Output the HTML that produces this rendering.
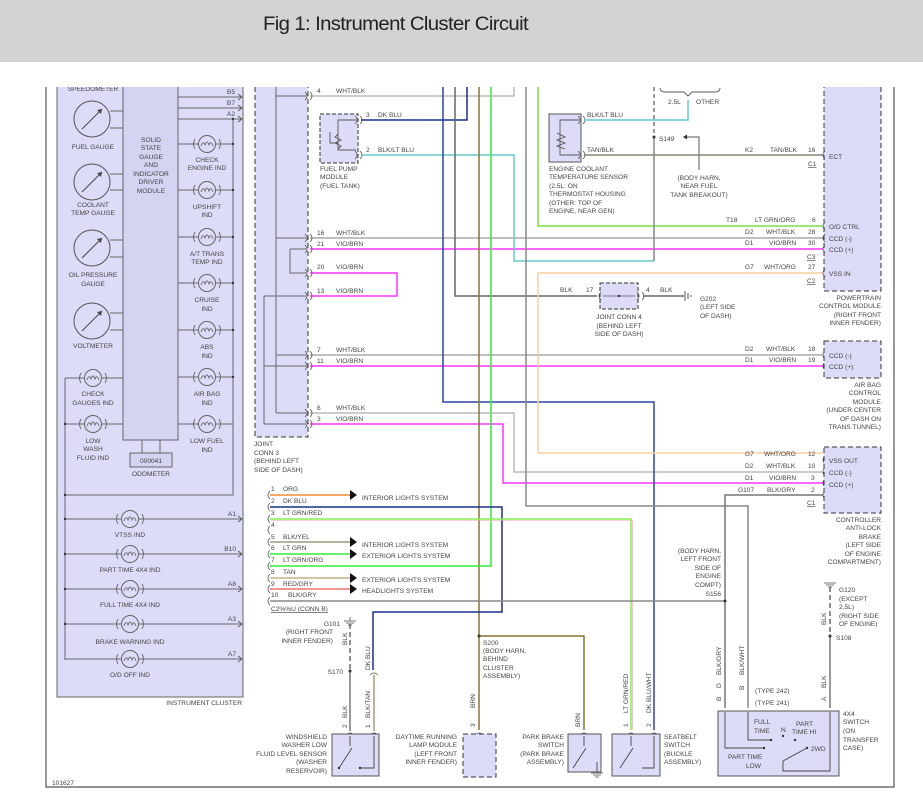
<!DOCTYPE html>
<html><head><meta charset="utf-8"><style>
html,body{margin:0;padding:0;background:#fff;width:923px;height:805px;overflow:hidden}
svg{display:block}
text{font-family:"Liberation Sans",sans-serif;font-size:6.6px;fill:#444}
.w{fill:none;stroke-width:1.5}
</style></head><body>
<svg width="923" height="805" viewBox="0 0 923 805" xmlns="http://www.w3.org/2000/svg">
<defs>
<g id="bulb"><circle cx="0" cy="0" r="8.5" fill="none" stroke="#666" stroke-width="1"/><path d="M-12,-5 Q-15,0 -12,5 M12,-5 Q15,0 12,5 M-6,2 Q-4,-4 -2,1 Q0,-5 2,1 Q4,-4 6,2" fill="none" stroke="#666" stroke-width="0.9"/></g>
<g id="gauge"><circle cx="0" cy="0" r="18" fill="none" stroke="#555" stroke-width="1"/><path d="M-10,10 L10,-10" stroke="#444" stroke-width="1"/><path d="M10,-10 l-5,1 l4,4z" fill="#444"/></g>
<g id="arr"><path d="M-4,-3 L0,0 L-4,3" fill="none" stroke="#555" stroke-width="0.9"/></g>
<g id="conR"><path d="M-3,-4 Q1,0 -3,4 M2,-4 Q6,0 2,4" fill="none" stroke="#555" stroke-width="0.8"/></g>
<g id="conL"><path d="M3,-4 Q-1,0 3,4" fill="none" stroke="#555" stroke-width="0.8"/></g>
<g id="conU"><path d="M-4,3 Q0,-1 4,3" fill="none" stroke="#555" stroke-width="0.8"/></g>
<g id="gnd"><path d="M-6,0 H6 M-4,2 H4 M-2,4 H2" stroke="#777" stroke-width="1"/></g>
</defs>

<!-- frame -->
<path d="M46,87 V787 H894 V87" fill="none" stroke="#555" stroke-width="1.2"/>

<!-- instrument cluster -->
<rect x="57" y="80" width="186" height="617" fill="#dcdcf8" stroke="#666" stroke-width="1"/>
<rect x="123" y="80" width="55" height="360" fill="#d3d3f2" stroke="#666" stroke-width="1"/>
<text x="242" y="705" text-anchor="end">INSTRUMENT CLUSTER</text>
<g text-anchor="middle">
<text x="151" y="142">SOLID</text><text x="151" y="150">STATE</text><text x="151" y="159">GAUGE</text><text x="151" y="167">AND</text><text x="151" y="176">INDICATOR</text><text x="151" y="184">DRIVER</text><text x="151" y="193">MODULE</text>
<text x="93" y="91">SPEEDOMETER</text>
<text x="93" y="149">FUEL GAUGE</text>
<text x="93" y="207">COOLANT</text><text x="93" y="215">TEMP GAUGE</text>
<text x="93" y="277">OIL PRESSURE</text><text x="93" y="286">GAUGE</text>
<text x="93" y="348">VOLTMETER</text>
<text x="93" y="396">CHECK</text><text x="93" y="405">GAUGES IND</text>
<text x="93" y="443">LOW</text><text x="93" y="451">WASH</text><text x="93" y="460">FLUID IND</text>
<text x="207" y="162">CHECK</text><text x="207" y="170">ENGINE IND</text>
<text x="207" y="209">UPSHIFT</text><text x="207" y="217">IND</text>
<text x="207" y="256">A/T TRANS</text><text x="207" y="264">TEMP IND</text>
<text x="207" y="302">CRUISE</text><text x="207" y="311">IND</text>
<text x="207" y="349">ABS</text><text x="207" y="358">IND</text>
<text x="207" y="396">AIR BAG</text><text x="207" y="405">IND</text>
<text x="207" y="443">LOW FUEL</text><text x="207" y="452">IND</text>
<text x="151" y="476">ODOMETER</text>
<text x="130" y="537">VTSS IND</text>
<text x="130" y="572">PART TIME 4X4 IND</text>
<text x="130" y="607">FULL TIME 4X4 IND</text>
<text x="130" y="644">BRAKE WARNING IND</text>
<text x="130" y="677">O/D OFF IND</text>
</g>
<g stroke="#666" stroke-width="1" fill="none">
<path d="M110,111H123 M110,128H123 M110,174H123 M110,190H123 M110,240H123 M110,257H123 M110,313H123 M110,330H123"/>
<path d="M178,97H241 M178,108H241 M178,119H241 M233,119V424"/>
<path d="M178,144H199 M215,144H233 M178,190H199 M215,190H233 M178,237H199 M215,237H233 M178,283H199 M215,283H233 M178,330H199 M215,330H233 M178,377H199 M215,377H233 M178,424H199 M215,424H233"/>
<path d="M65,378H85 M101,378H123 M65,424H85 M101,424H123 M65,378V660 M233,424V495 H65"/>
<path d="M65,519H122 M138,519H241 M65,554H122 M138,554H241 M65,589H122 M138,589H241 M65,624H122 M138,624H241 M65,659H122 M138,659H241"/>
<path d="M142,440V453 M160,440V453"/>
</g>
<rect x="130" y="453" width="42" height="14" fill="#d3d3f2" stroke="#666"/>
<text x="151" y="463" text-anchor="middle">000041</text>
<use href="#gauge" x="92" y="119"/><use href="#gauge" x="92" y="182"/><use href="#gauge" x="92" y="248"/><use href="#gauge" x="92" y="321"/>
<g>
<use href="#bulb" x="207" y="144"/><use href="#bulb" x="207" y="190"/><use href="#bulb" x="207" y="237"/><use href="#bulb" x="207" y="283"/><use href="#bulb" x="207" y="330"/><use href="#bulb" x="207" y="377"/><use href="#bulb" x="207" y="424"/>
<use href="#bulb" x="93" y="378"/><use href="#bulb" x="93" y="424"/>
<use href="#bulb" x="130" y="519"/><use href="#bulb" x="130" y="554"/><use href="#bulb" x="130" y="589"/><use href="#bulb" x="130" y="624"/><use href="#bulb" x="130" y="659"/>
</g>
<g fill="#333"><circle cx="233" cy="144" r="1.2"/><circle cx="233" cy="190" r="1.2"/><circle cx="233" cy="237" r="1.2"/><circle cx="233" cy="283" r="1.2"/><circle cx="233" cy="330" r="1.2"/><circle cx="233" cy="377" r="1.2"/><circle cx="233" cy="119" r="1.2"/>
<circle cx="65" cy="424" r="1.2"/><circle cx="65" cy="495" r="1.2"/><circle cx="65" cy="519" r="1.2"/><circle cx="65" cy="554" r="1.2"/><circle cx="65" cy="589" r="1.2"/><circle cx="65" cy="624" r="1.2"/></g>
<use href="#arr" x="242" y="97"/><use href="#arr" x="242" y="108"/><use href="#arr" x="242" y="119"/>
<use href="#arr" x="242" y="519"/><use href="#arr" x="242" y="554"/><use href="#arr" x="242" y="589"/><use href="#arr" x="242" y="624"/><use href="#arr" x="242" y="659"/>
<g text-anchor="end"><text x="235" y="94">B5</text><text x="235" y="105">B7</text><text x="235" y="116">A2</text>
<text x="236" y="516">A1</text><text x="236" y="551">B10</text><text x="236" y="586">A8</text><text x="236" y="621">A3</text><text x="236" y="656">A7</text></g>

<!-- joint conn 3 -->
<rect x="255" y="80" width="53" height="357" fill="#dcdcf8" stroke="#333" stroke-width="1" stroke-dasharray="5,3"/>
<g stroke="#666" stroke-width="1" fill="none">
<path d="M276,80V413 M264,296V424 M276,96H306 M276,238H306 M290,249H306 M290,249V273H306 M264,296H306 M276,355H306 M264,366H306 M276,413H306 M264,424H306"/>
</g>
<text x="254" y="446">JOINT</text><text x="254" y="455">CONN 3</text><text x="254" y="463">(BEHIND LEFT</text><text x="254" y="472">SIDE OF DASH)</text>

<!-- wires from joint conn 3 -->
<path class="w" d="M310,96H514V80" stroke="#bbb"/>
<path class="w" d="M310,238H823" stroke="#aaa"/>
<path class="w" d="M310,249H823" stroke="#ff33ff"/>
<path class="w" d="M310,273H397V296H310" stroke="#ff33ff"/>
<path class="w" d="M310,355H823" stroke="#aaa"/>
<path class="w" d="M310,366H823" stroke="#ff33ff"/>
<path class="w" d="M310,413H514V472H823" stroke="#bbb"/>
<path class="w" d="M310,424H503V483H823" stroke="#ff33ff"/>
<g>
<use href="#conR" x="308" y="96"/><use href="#conR" x="308" y="238"/><use href="#conR" x="308" y="249"/><use href="#conR" x="308" y="273"/><use href="#conR" x="308" y="296"/><use href="#conR" x="308" y="355"/><use href="#conR" x="308" y="366"/><use href="#conR" x="308" y="413"/><use href="#conR" x="308" y="424"/>
</g>
<text x="317" y="93">4</text><text x="336" y="93">WHT/BLK</text>
<text x="317" y="235">16</text><text x="336" y="235">WHT/BLK</text>
<text x="317" y="246">21</text><text x="336" y="246">VIO/BRN</text>
<text x="317" y="269">20</text><text x="336" y="269">VIO/BRN</text>
<text x="317" y="293">13</text><text x="336" y="293">VIO/BRN</text>
<text x="317" y="352">7</text><text x="336" y="352">WHT/BLK</text>
<text x="317" y="363">11</text><text x="336" y="363">VIO/BRN</text>
<text x="317" y="410">6</text><text x="336" y="410">WHT/BLK</text>
<text x="317" y="421">3</text><text x="336" y="421">VIO/BRN</text>

<!-- fuel pump module -->
<rect x="320" y="114" width="38" height="49" fill="#dcdcf8" stroke="#333" stroke-dasharray="4,2"/>
<path d="M356,120H338V150H356 M330,132V143 L338,143 M338,134 l-3,3 l6,3 l-6,3 l6,3 l-3,3" fill="none" stroke="#555" stroke-width="0.9"/>
<use href="#conR" x="358" y="120"/><use href="#conR" x="358" y="155"/>
<path class="w" d="M361,120H467V80" stroke="#1c2e8c"/>
<path class="w" d="M361,155H514V261H654" stroke="#6cc"/>
<text x="366" y="117">3</text><text x="378" y="117">DK BLU</text>
<text x="366" y="152">2</text><text x="378" y="152">BLK/LT BLU</text>
<text x="320" y="171">FUEL PUMP</text><text x="320" y="179">MODULE</text><text x="320" y="188">(FUEL TANK)</text>

<!-- middle verticals -->
<path class="w" d="M443,80V402H654V730" stroke="#2c45a8"/>
<path class="w" d="M455,80V296H597" stroke="#666"/>
<path class="w" d="M479,80V730" stroke="#8b7432"/>
<path class="w" d="M479,636H584V730" stroke="#8b7432"/>
<path class="w" d="M491,80V566H270" stroke="#33ee33"/>
<path class="w" d="M526,80V506H748V708" stroke="#888"/>
<path class="w" d="M538,80V226H823" stroke="#77e044"/>
<path class="w" d="M538,453V273H823" stroke="#f8cfa0"/>
<path class="w" d="M538,453H823" stroke="#f8cfa0"/>
<path class="w" d="M823,495H725V708" stroke="#777"/>

<!-- coolant sensor -->
<rect x="549" y="114" width="32" height="48" fill="#dcdcf8" stroke="#555"/>
<path d="M579,120H560V155H579 M557,133 l8,4 l-8,3 l8,3 l-8,3 l8,3" fill="none" stroke="#555" stroke-width="0.9"/>
<use href="#conR" x="581" y="120"/><use href="#conR" x="581" y="155"/>
<path class="w" d="M584,120H688V100" stroke="#6cc"/>
<path class="w" d="M584,155H823" stroke="#8c8270"/>
<text x="587" y="117">BLK/LT BLU</text><text x="587" y="152">TAN/BLK</text>
<text x="549" y="171">ENGINE COOLANT</text><text x="549" y="179">TEMPERATURE SENSOR</text><text x="549" y="188">(2.5L: ON</text><text x="549" y="196">THERMOSTAT HOUSING</text><text x="549" y="205">(OTHER: TOP OF</text><text x="549" y="213">ENGINE, NEAR GEN)</text>
<path d="M654,80V137" stroke="#333" stroke-width="1" stroke-dasharray="4,3"/>
<path d="M654,137V261" stroke="#888" stroke-width="1.5"/>
<circle cx="654" cy="137" r="1.5" fill="#333"/>
<text x="659" y="141">S149</text>
<path d="M660,88 q0,4 5,4 H684 l4,4 l4,-4 H715 q5,0 5,-4" fill="none" stroke="#555" stroke-width="0.9"/>
<text x="668" y="104">2.5L</text><text x="696" y="104">OTHER</text>
<path d="M686,137H699V170" fill="none" stroke="#777" stroke-width="1.2"/><path d="M683,137l4,-2.5v5z" fill="#333"/>
<g text-anchor="middle"><text x="699" y="180">(BODY HARN,</text><text x="699" y="188">NEAR FUEL</text><text x="699" y="197">TANK BREAKOUT)</text></g>

<!-- joint conn 4 -->
<rect x="600" y="283" width="38" height="26" fill="#dcdcf8" stroke="#333" stroke-dasharray="4,2"/>
<path d="M603,296H635" stroke="#555" stroke-width="0.8"/><circle cx="619" cy="296" r="1.2" fill="#333"/>
<use href="#conL" x="598" y="296"/><use href="#conR" x="640" y="296"/>
<path class="w" d="M643,296H684" stroke="#666"/>
<path d="M685,291V301 M688,293V299 M691,295V297" stroke="#555"/>
<text x="560" y="292">BLK</text><text x="586" y="292">17</text><text x="646" y="292">4</text><text x="660" y="292">BLK</text>
<text x="700" y="301">G202</text><text x="700" y="309">(LEFT SIDE</text><text x="700" y="318">OF DASH)</text>
<g text-anchor="middle"><text x="619" y="319">JOINT CONN 4</text><text x="619" y="328">(BEHIND LEFT</text><text x="619" y="336">SIDE OF DASH)</text></g>

<!-- PCM -->
<rect x="824" y="80" width="57" height="211" fill="#dcdcf8" stroke="#333" stroke-dasharray="5,3"/>
<g><use href="#conL" x="822" y="155"/><use href="#conL" x="822" y="226"/><use href="#conL" x="822" y="238"/><use href="#conL" x="822" y="249"/><use href="#conL" x="822" y="273"/>
<use href="#conL" x="822" y="355"/><use href="#conL" x="822" y="366"/>
<use href="#conL" x="822" y="460"/><use href="#conL" x="822" y="472"/><use href="#conL" x="822" y="483"/><use href="#conL" x="822" y="495"/></g>
<text x="829" y="159">ECT</text><text x="829" y="229">O/D CTRL</text><text x="829" y="241">CCD (-)</text><text x="829" y="252">CCD (+)</text><text x="829" y="276">VSS IN</text>
<g text-anchor="end"><text x="881" y="300">POWERTRAIN</text><text x="881" y="308">CONTROL MODULE</text><text x="881" y="317">(RIGHT FRONT</text><text x="881" y="325">INNER FENDER)</text></g>
<text x="745" y="152">K2</text><text x="770" y="152">TAN/BLK</text><text x="808" y="152">16</text><text x="808" y="166" text-decoration="underline">C1</text>
<text x="726" y="222">T18</text><text x="755" y="222">LT GRN/ORG</text><text x="812" y="222">6</text>
<text x="745" y="234">D2</text><text x="766" y="234">WHT/BLK</text><text x="808" y="234">28</text>
<text x="745" y="245">D1</text><text x="769" y="245">VIO/BRN</text><text x="808" y="245">30</text><text x="807" y="259" text-decoration="underline">C3</text>
<text x="745" y="269">G7</text><text x="764" y="269">WHT/ORG</text><text x="808" y="269">27</text><text x="807" y="283" text-decoration="underline">C2</text>

<!-- air bag -->
<rect x="824" y="341" width="57" height="37" fill="#dcdcf8" stroke="#333" stroke-dasharray="5,3"/>
<text x="829" y="358">CCD (-)</text><text x="829" y="369">CCD (+)</text>
<text x="745" y="351">D2</text><text x="766" y="351">WHT/BLK</text><text x="808" y="351">18</text>
<text x="745" y="362">D1</text><text x="769" y="362">VIO/BRN</text><text x="808" y="362">19</text>
<g text-anchor="end"><text x="881" y="387">AIR BAG</text><text x="881" y="395">CONTROL</text><text x="881" y="404">MODULE</text><text x="881" y="412">(UNDER CENTER</text><text x="881" y="421">OF DASH ON</text><text x="881" y="429">TRANS TUNNEL)</text></g>

<!-- ABS controller -->
<rect x="824" y="447" width="57" height="66" fill="#dcdcf8" stroke="#333" stroke-dasharray="5,3"/>
<text x="829" y="463">VSS OUT</text><text x="829" y="475">CCD (-)</text><text x="829" y="487">CCD (+)</text>
<text x="745" y="456">G7</text><text x="764" y="456">WHT/ORG</text><text x="808" y="456">12</text>
<text x="745" y="468">D2</text><text x="766" y="468">WHT/BLK</text><text x="808" y="468">10</text>
<text x="745" y="480">D1</text><text x="769" y="480">VIO/BRN</text><text x="811" y="480">3</text>
<text x="738" y="492">G107</text><text x="767" y="492">BLK/GRY</text><text x="811" y="492">2</text><text x="807" y="505" text-decoration="underline">C1</text>
<g text-anchor="end"><text x="881" y="522">CONTROLLER</text><text x="881" y="530">ANTI-LOCK</text><text x="881" y="539">BRAKE</text><text x="881" y="547">(LEFT SIDE</text><text x="881" y="556">OF ENGINE</text><text x="881" y="564">COMPARTMENT)</text></g>

<!-- C2 connector -->
<path class="w" d="M270,495H350" stroke="#f08c3a"/>
<path class="w" d="M270,507H502V612H373V670" stroke="#1c2e8c"/>
<path class="w" d="M270,519H631V730" stroke="#88ee55"/>
<path d="M270,520.5H632.5V730" fill="none" stroke="#f2a0a0" stroke-width="0.6"/>
<path class="w" d="M270,542H350" stroke="#9a9a80"/>
<path class="w" d="M270,554H350" stroke="#33ee33"/>
<path class="w" d="M270,578H350" stroke="#c4b08a"/>
<path class="w" d="M270,589H350" stroke="#f07070"/>
<path class="w" d="M270,601H725" stroke="#888"/>
<g fill="#111"><path d="M350,490l7,5l-7,5z"/><path d="M350,537l7,5l-7,5z"/><path d="M350,549l7,5l-7,5z"/><path d="M350,573l7,5l-7,5z"/><path d="M350,584l7,5l-7,5z"/></g>
<g><use href="#conL" x="267" y="495"/><use href="#conL" x="267" y="507"/><use href="#conL" x="267" y="519"/><use href="#conL" x="267" y="530"/><use href="#conL" x="267" y="542"/><use href="#conL" x="267" y="554"/><use href="#conL" x="267" y="566"/><use href="#conL" x="267" y="578"/><use href="#conL" x="267" y="589"/><use href="#conL" x="267" y="601"/></g>
<text x="271" y="491">1</text><text x="283" y="491">ORG</text>
<text x="271" y="503">2</text><text x="283" y="503">DK BLU</text>
<text x="271" y="515">3</text><text x="283" y="515">LT GRN/RED</text>
<text x="271" y="527">4</text>
<text x="271" y="539">5</text><text x="283" y="539">BLK/YEL</text>
<text x="271" y="550">6</text><text x="283" y="550">LT GRN</text>
<text x="271" y="562">7</text><text x="283" y="562">LT GRN/ORG</text>
<text x="271" y="574">8</text><text x="283" y="574">TAN</text>
<text x="271" y="586">9</text><text x="283" y="586">RED/GRY</text>
<text x="271" y="597">10</text><text x="288" y="597">BLK/GRY</text>
<text x="271" y="611" text-decoration="underline">C2%%U (CONN B)</text>
<text x="362" y="500">INTERIOR LIGHTS SYSTEM</text>
<text x="362" y="547">INTERIOR LIGHTS SYSTEM</text>
<text x="362" y="558">EXTERIOR LIGHTS SYSTEM</text>
<text x="362" y="582">EXTERIOR LIGHTS SYSTEM</text>
<text x="362" y="593">HEADLIGHTS SYSTEM</text>

<!-- windshield sensor -->
<use href="#gnd" x="350" y="621"/><path d="M350,617V621" stroke="#777"/>
<path d="M350,624V671" stroke="#555" stroke-width="1.3" stroke-dasharray="5,3"/>
<path d="M350,671V731" stroke="#777" stroke-width="1.5"/><circle cx="350" cy="671" r="1.5" fill="#333"/>
<path d="M374,675V731" stroke="#a89a70" stroke-width="1.5"/>
<use href="#conU" x="374" y="672"/><use href="#conU" x="350" y="732"/><use href="#conU" x="374" y="732"/>
<g text-anchor="end"><text x="340" y="626">G101</text><text x="333" y="634">(RIGHT FRONT</text><text x="333" y="643">INNER FENDER)</text><text x="343" y="674">S170</text>
<text x="327" y="739">WINDSHIELD</text><text x="327" y="747">WASHER LOW</text><text x="327" y="756">FLUID LEVEL SENSOR</text><text x="327" y="764">(WASHER</text><text x="327" y="773">RESERVOIR)</text>
<text x="457" y="739">DAYTIME RUNNING</text><text x="457" y="747">LAMP MODULE</text><text x="457" y="756">(LEFT FRONT</text><text x="457" y="764">INNER FENDER)</text>
<text x="564" y="739">PARK BRAKE</text><text x="564" y="747">SWITCH</text><text x="564" y="756">(PARK BRAKE</text><text x="564" y="764">ASSEMBLY)</text>
<text x="721" y="553">(BODY HARN,</text><text x="721" y="561">LEFT FRONT</text><text x="721" y="570">SIDE OF</text><text x="721" y="578">ENGINE</text><text x="721" y="587">COMPT)</text><text x="721" y="596">S156</text></g>
<g transform="rotate(-90)">
<text x="-645" y="347">BLK</text><text x="-670" y="370">DK BLU</text>
<text x="-718" y="347">BLK</text><text x="-728" y="347">2</text>
<text x="-718" y="370">BLK/TAN</text><text x="-728" y="370">1</text>
<text x="-708" y="475">BRN</text><text x="-727" y="475">3</text>
<text x="-727" y="580">BRN</text>
<text x="-713" y="628">LT GRN/RED</text><text x="-727" y="628">1</text>
<text x="-713" y="651">DK BLU/WHT</text><text x="-727" y="651">2</text>
<text x="-675" y="721">BLK/GRY</text><text x="-688" y="721">D</text><text x="-701" y="721">B</text>
<text x="-675" y="744">BLK/WHT</text><text x="-690" y="744">B</text>
<text x="-625" y="826">BLK</text><text x="-688" y="826">BLK</text><text x="-701" y="826">A</text>
</g>
<rect x="332" y="734" width="47" height="42" fill="#dcdcf8" stroke="#555"/>
<path d="M350,736V746 M352,748L339,768 M374,736V768H360" fill="none" stroke="#444" stroke-width="0.9"/>
<circle cx="339" cy="768" r="1.2" fill="#333"/><circle cx="360" cy="768" r="1.2" fill="#333"/>

<!-- DRL -->
<circle cx="479" cy="636" r="1.5" fill="#333"/>
<text x="483" y="645">S200</text><text x="483" y="653">(BODY HARN,</text><text x="483" y="661">BEHIND</text><text x="483" y="670">CLUSTER</text><text x="483" y="678">ASSEMBLY)</text>
<use href="#conU" x="479" y="732"/>
<rect x="463" y="734" width="33" height="43" fill="#dcdcf8" stroke="#333" stroke-dasharray="5,3"/>

<!-- park brake -->
<use href="#conU" x="584" y="732"/>
<rect x="568" y="734" width="33" height="38" fill="#dcdcf8" stroke="#555"/>
<path d="M584,736V746 M586,748L573,768 M597,762V772" fill="none" stroke="#444" stroke-width="0.9"/>
<use href="#gnd" x="597" y="773"/>

<!-- seatbelt -->
<use href="#conU" x="631" y="732"/><use href="#conU" x="654" y="732"/>
<rect x="612" y="734" width="48" height="42" fill="#dcdcf8" stroke="#555"/>
<path d="M631,736V746 M633,748L620,768 M654,736V768H642" fill="none" stroke="#444" stroke-width="0.9"/>
<text x="664" y="739">SEATBELT</text><text x="664" y="747">SWITCH</text><text x="664" y="756">(BUCKLE</text><text x="664" y="764">ASSEMBLY)</text>

<!-- 4x4 switch -->
<circle cx="725" cy="601" r="1.5" fill="#333"/>
<use href="#gnd" x="830" y="583"/>
<path d="M830,587V636" stroke="#555" stroke-width="1.3" stroke-dasharray="5,3"/>
<path d="M830,636V708" stroke="#777" stroke-width="1.5"/><circle cx="830" cy="636" r="1.5" fill="#333"/>
<text x="839" y="592">G120</text><text x="839" y="601">(EXCEPT</text><text x="839" y="609">2.5L)</text><text x="839" y="618">(RIGHT SIDE</text><text x="839" y="626">OF ENGINE)</text><text x="836" y="640">S108</text>
<text x="755" y="693">(TYPE 242)</text><text x="755" y="705">(TYPE 241)</text>
<use href="#conU" x="725" y="710"/><use href="#conU" x="748" y="710"/><use href="#conU" x="830" y="710"/>
<rect x="718" y="711" width="121" height="65" fill="#dcdcf8" stroke="#555"/>
<path d="M725,712V748H764 M748,712V740H771 M830,712V771H783V761L807,748" fill="none" stroke="#444" stroke-width="0.9"/>
<g fill="#333"><circle cx="764" cy="748" r="1.2"/><circle cx="771" cy="740" r="1.2"/><circle cx="783" cy="736" r="1.2"/><circle cx="795" cy="740" r="1.2"/><circle cx="807" cy="748" r="1.2"/></g>
<text x="754" y="724">FULL</text><text x="754" y="733">TIME</text><text x="781" y="732">N</text>
<text x="796" y="726">PART</text><text x="792" y="734">TIME HI</text><text x="811" y="751">2WD</text>
<text x="728" y="759">PART TIME</text><text x="746" y="768">LOW</text>
<text x="843" y="716">4X4</text><text x="843" y="724">SWITCH</text><text x="843" y="733">(ON</text><text x="843" y="742">TRANSFER</text><text x="843" y="750">CASE)</text>

<text x="52" y="785">101627</text>

<!-- crop top of diagram -->
<rect x="0" y="62" width="923" height="25" fill="#fff"/>
<!-- header -->
<rect x="0" y="0" width="923" height="62" fill="#d3d3d3"/>
<text x="263" y="30" style="font-size:19px;fill:#222;letter-spacing:-0.6px" textLength="265" lengthAdjust="spacingAndGlyphs">Fig 1: Instrument Cluster Circuit</text>
</svg>
</body></html>
